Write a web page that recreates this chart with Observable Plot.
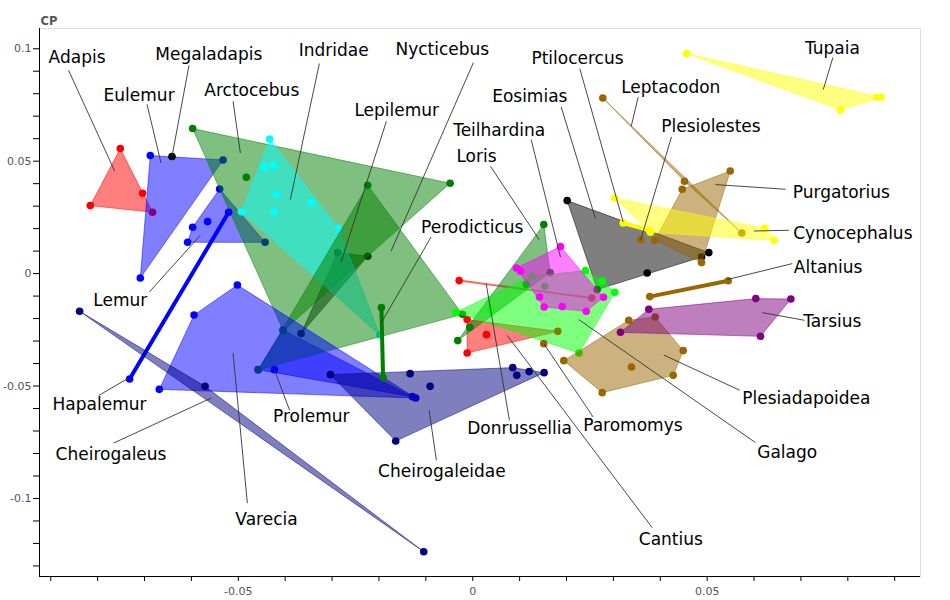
<!DOCTYPE html>
<html><head><meta charset="utf-8">
<script src="https://cdn.jsdelivr.net/npm/d3@7"></script>
<script src="https://cdn.jsdelivr.net/npm/@observablehq/plot@0.6"></script>
<style>body{margin:0;background:#fff;}</style>
</head><body><div id="chart"></div>
<script>
// ---- data: [x, y] per specimen, grouped by genus ----
const Adapis = [[-0.07517,0.05561],[-0.08157,0.03025],[-0.07041,0.03572],[-0.06828,0.02727]];
const Eulemur = [[-0.06877,0.05249],[-0.05325,0.05053],[-0.0709,-0.00196]];
const Megaladapis = [[-0.06414,0.05205]];
const Lemur = [[-0.05398,0.03763],[-0.05974,0.0206],[-0.06081,0.01392],[-0.04429,0.01392],[-0.05654,0.02313]];
const Prolemur = [[-0.04045,-0.02509],[-0.04579,-0.04271],[-0.04231,-0.04271],[-0.01287,-0.05472]];
const Lepilemur = [[-0.0288,0.00934],[-0.0224,0.0077],[-0.03661,-0.02669]];
const Arctocebus = [[-0.05974,0.0645],[-0.00482,0.04017],[-0.04828,0.04284],[-0.04039,-0.02544]];
const Indridae = [[-0.04331,0.05988],[-0.04444,0.04742],[-0.04246,0.04804],[-0.04188,0.03514],[-0.04231,0.02749],[-0.04935,0.02749],[-0.03441,0.03158],[-0.02859,0.02015],[-0.01984,-0.02731]];
const Nycticebus = [[-0.0224,0.03928],[-0.0022,-0.01811],[-0.04572,-0.04279]];
const Hapalemur = [[-0.05206,0.02727],[-0.07318,-0.04689]];
const Varecia = [[-0.0502,-0.00507],[-0.05944,-0.01842],[-0.06685,-0.05147],[-0.01216,-0.05534]];
const Cheirogaleus = [[-0.08385,-0.01677],[-0.05709,-0.05013],[-0.01045,-0.12367]];
const Cheirogaleidae = [[-0.03036,-0.04493],[-0.01336,-0.04448],[-0.00909,-0.05013],[-0.01643,-0.07447],[0.00853,-0.04182],[0.00939,-0.04524],[0.01203,-0.04359],[0.01523,-0.04404]];
const Perodicticus = [[-0.01948,-0.01512],[-0.01912,-0.04626]];
const Cantius = [[-0.00119,-0.02046],[0.00292,-0.02714],[-0.00119,-0.03532],[0.01814,-0.02567]];
const Donrussellia = [[-0.0029,-0.00311],[0.02539,-0.01085]];
const Eosimias = [[0.02014,0.03247],[0.05035,0.00934],[0.0488,0.00738],[0.03721,0.00027],[0.02654,-0.00712]];
const Loris = [[0.01515,0.0218],[-0.0032,-0.0298],[-0.00064,-0.02389],[0.01651,0.00044],[0.01139,-0.00489]];
const Galago = [[0.02405,0.00133],[0.02761,-0.00329],[0.0303,-0.00832],[0.02266,-0.03532],[-0.00363,-0.01722],[0.00384,-0.01646],[0.01259,-0.0012],[0.01536,-0.00565]];
const Teilhardina = [[0.01871,0.01201],[0.00932,0.00249],[0.01018,0.00102],[0.01423,-0.01041],[0.01523,-0.01486],[0.01907,-0.01468],[0.0242,-0.01677],[0.02789,-0.01054]];
const Paromomys = [[0.01515,-0.03114]];
const Plesiadapoidea = [[0.03328,-0.02077],[0.03892,-0.01931],[0.04489,-0.03425],[0.04276,-0.04524],[0.03386,-0.04155],[0.02761,-0.05294],[0.01942,-0.0387]];
const Tarsius = [[0.03755,-0.01588],[0.06038,-0.01112],[0.06785,-0.0113],[0.06138,-0.02789],[0.03151,-0.02611]];
const Altanius = [[0.03776,-0.01023],[0.05449,-0.0032]];
const Purgatorius = [[0.05492,0.04564],[0.04468,0.0375],[0.03883,0.01481],[0.0488,0.00489]];
const Leptacodon = [[0.02774,0.07811],[0.04517,0.04106],[0.05739,0.01806]];
const Plesiolestes = [[0.03584,0.01512]];
const Cynocephalus = [[0.03023,0.03363],[0.0623,0.02015],[0.0643,0.01481],[0.03791,0.01837]];
const Ptilocercus = [[0.03209,0.02251],[0.0377,0.01926]];
const Tupaia = [[0.04559,0.09786],[0.07845,0.07278],[0.08613,0.07843],[0.08713,0.07843]];

// label rows: [name, textX, textY, leaderX1, leaderY1, leaderX2, leaderY2]
const labelRows = [
["Adapis", -0.09046, 0.09609, -0.0862, 0.09044, -0.07638, 0.04564],
["Megaladapis", -0.0677, 0.0976, -0.06051, 0.09266, -0.06414, 0.05205],
["Eulemur", -0.07873, 0.07918, -0.06947, 0.07531, -0.06648, 0.0492],
["Arctocebus", -0.05724, 0.0814, -0.05112, 0.07665, -0.04956, 0.05365],
["Indridae", -0.03712, 0.09907, -0.03271, 0.09342, -0.0389, 0.03292],
["Nycticebus", -0.01649, 0.09951, 0.00015, 0.09386, -0.01741, 0.01005],
["Lepilemur", -0.02524, 0.07238, -0.01841, 0.06775, -0.02808, 0.00516],
["Ptilocercus", 0.01252, 0.09551, 0.02283, 0.09119, 0.03209, 0.02295],
["Eosimias", 0.00414, 0.07874, 0.01886, 0.07411, 0.02618, 0.02447],
["Teilhardina", -0.00418, 0.06348, 0.01246, 0.05961, 0.01871, 0.00738],
["Loris", -0.00348, 0.05205, 0.00378, 0.04773, 0.01417, 0.01512],
["Perodicticus", -0.01101, 0.02064, -0.00888, 0.01628, -0.01954, -0.02198],
["Tupaia", 0.07084, 0.10027, 0.07681, 0.09609, 0.07476, 0.08185],
["Leptacodon", 0.03166, 0.08274, 0.03529, 0.07856, 0.0338, 0.06553],
["Plesiolestes", 0.0402, 0.06539, 0.04239, 0.06077, 0.03584, 0.01512],
["Purgatorius", 0.06828, 0.03603, 0.06672, 0.0375, 0.05178, 0.03959],
["Cynocephalus", 0.06836, 0.01797, 0.06742, 0.01926, 0.05995, 0.01895],
["Altanius", 0.06849, 0.00267, 0.06815, 0.00445, 0.05428, -0.00267],
["Tarsius", 0.07049, -0.02135, 0.07077, -0.02077, 0.06175, -0.01735],
["Plesiadapoidea", 0.05748, -0.05574, 0.05697, -0.05191, 0.04075, -0.03621],
["Galago", 0.06068, -0.07945, 0.06032, -0.07518, 0.02262, -0.02046],
["Cantius", 0.03542, -0.11815, 0.03828, -0.11299, 0.00734, -0.02745],
["Paromomys", 0.02356, -0.06775, 0.02569, -0.06379, 0.01515, -0.03114],
["Donrussellia", -0.00119, -0.06908, 0.00783, -0.06526, 0.00286, -0.00445],
["Cheirogaleidae", -0.02018, -0.08808, -0.00775, -0.08305, -0.0093, -0.06081],
["Prolemur", -0.04259, -0.06361, -0.03904, -0.06081, -0.04231, -0.04271],
["Varecia", -0.05063, -0.10925, -0.04807, -0.10205, -0.05112, -0.03532],
["Cheirogaleus", -0.08897, -0.08034, -0.0766, -0.07536, -0.05575, -0.05534],
["Hapalemur", -0.08961, -0.05841, -0.07971, -0.05414, -0.0734, -0.04644],
["Lemur", -0.08093, -0.01201, -0.06898, -0.00819, -0.0581, 0.01704]
];

const xTicks = d3.range(-9, 10).map(i => i / 100);
const yTicks = d3.range(-13, 11).map(i => i / 100);
const xDomain = [-0.0924, 0.0955];
const yDomain = [-0.1347, 0.109];

// ---- styles ----
const groupData = {Adapis, Eulemur, Megaladapis, Lemur, Prolemur, Lepilemur, Arctocebus, Indridae, Nycticebus, Hapalemur, Varecia, Cheirogaleus, Cheirogaleidae, Perodicticus, Cantius, Donrussellia, Eosimias, Loris, Galago, Teilhardina, Paromomys, Plesiadapoidea, Tarsius, Altanius, Purgatorius, Leptacodon, Plesiolestes, Cynocephalus, Ptilocercus, Tupaia};
const groupOrder = Object.keys(groupData);
const RED = "#ff0000", BLUE = "#0000ff", BLACK = "#000000", NAVY = "#000080", GREEN = "#008000",
      CYAN = "#00ffff", LIME = "#00ff00", MAGENTA = "#ff00ff", PURPLE = "#800080", YELLOW = "#ffff00", BROWN = "#996600";
const groupColor = {Adapis:RED, Eulemur:BLUE, Megaladapis:BLACK, Lemur:BLUE, Prolemur:BLUE, Lepilemur:BLACK,
  Arctocebus:GREEN, Indridae:CYAN, Nycticebus:GREEN, Hapalemur:BLUE, Varecia:BLUE, Cheirogaleus:NAVY,
  Cheirogaleidae:NAVY, Perodicticus:GREEN, Cantius:RED, Donrussellia:RED, Eosimias:BLACK, Loris:GREEN,
  Galago:LIME, Teilhardina:MAGENTA, Paromomys:BROWN, Plesiadapoidea:BROWN, Tarsius:PURPLE, Altanius:BROWN,
  Purgatorius:BROWN, Leptacodon:BROWN, Plesiolestes:BROWN, Cynocephalus:YELLOW, Ptilocercus:YELLOW, Tupaia:YELLOW};
const thickLine = {Hapalemur:4, Perodicticus:4, Altanius:4, Ptilocercus:4};

const marks = [
  Plot.frame({stroke: "#dddddd"}),
  Plot.ruleX([xDomain[0]], {stroke: "black"}),
  Plot.ruleY([yDomain[0]], {stroke: "black"})
];
for (const g of groupOrder) {
  const pts = groupData[g].map(([x, y]) => ({x, y}));
  const c = groupColor[g];
  if (thickLine[g]) {
    marks.push(Plot.line(pts, {x: "x", y: "y", stroke: c, strokeWidth: thickLine[g]}));
  } else if (pts.length === 2) {
    marks.push(Plot.line(pts, {x: "x", y: "y", stroke: c, strokeWidth: 2, strokeOpacity: 0.6}));
  } else if (pts.length >= 3) {
    marks.push(Plot.hull(pts, {x: "x", y: "y", fill: c, fillOpacity: 0.5, stroke: c, strokeOpacity: 0.5, strokeWidth: 1}));
  }
  marks.push(Plot.dot(pts, {x: "x", y: "y", r: 3.8, fill: c}));
}
const labels = labelRows.map(([name, tx, ty, x1, y1, x2, y2]) => ({name, tx, ty, x1, y1, x2, y2}));
marks.push(Plot.link(labels, {x1: "x1", y1: "y1", x2: "x2", y2: "y2", stroke: "#333", strokeWidth: 0.9}));
marks.push(Plot.text(labels, {x: "tx", y: "ty", text: "name", textAnchor: "start", fontSize: 17, fill: "black"}));

const fmt = v => {
  const k = Math.round(v * 100);
  if (k % 5 !== 0) return "";
  return k === 0 ? "0" : String(k / 100);
};
marks.push(Plot.axisX(xTicks, {tickSize: 5, tickPadding: 6, tickFormat: fmt, fontSize: 11, fill: "#555", stroke: "black", label: null}));
marks.push(Plot.axisY(yTicks, {tickSize: 6, tickPadding: 2, tickFormat: fmt, fontSize: 11, fill: "#555", stroke: "black", label: null}));
marks.push(Plot.text(["CP"], {frameAnchor: "top-left", dx: 1, dy: -12, text: d => d, textAnchor: "start", fontWeight: "bold", fontSize: 11.5, fill: "#555"}));

const chart = Plot.plot({
  width: 950, height: 600,
  marginLeft: 39, marginRight: 30, marginTop: 28, marginBottom: 24,
  x: {domain: xDomain},
  y: {domain: yDomain},
  style: {fontFamily: "DejaVu Sans, sans-serif", background: "white"},
  marks
});
document.getElementById("chart").appendChild(chart);
</script>
</body></html>
